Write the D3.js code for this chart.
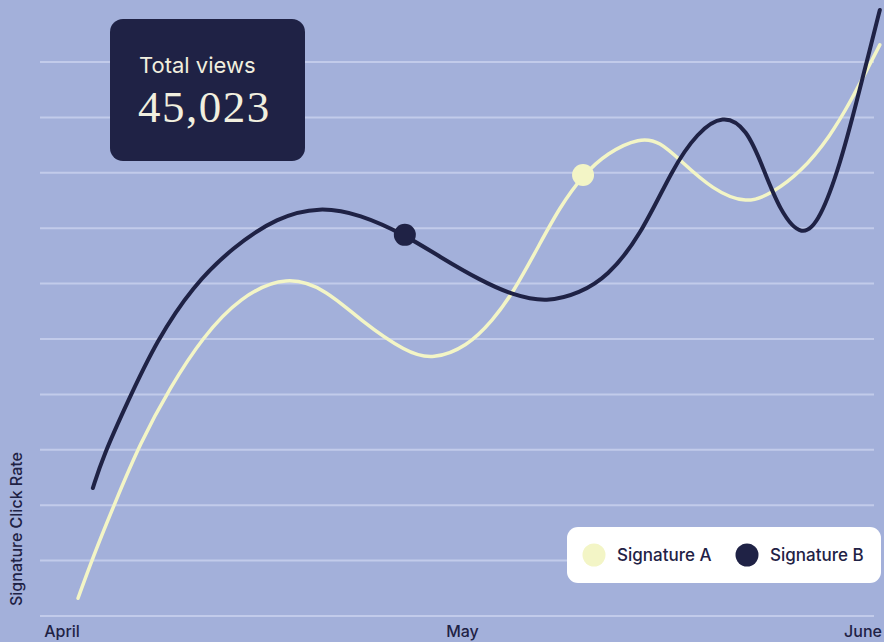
<!DOCTYPE html>
<meta charset="utf-8">
<style>
body { margin: 0; background: #a3b0da; }
svg { display: block; font-family: Inter, "Noto Sans", sans-serif; }
.grid line { stroke: #c2cbea; stroke-width: 2px; }
.month { font-size: 16px; font-weight: 500; fill: #1f2245; }
.ylabel { font-size: 16px; font-weight: 500; fill: #1f2245; }
.line { fill: none; stroke-linecap: round; }
</style>
<svg width="884" height="642"></svg>
<script src="https://d3js.org/d3.v7.min.js"></script>
<script>
// months since start of April
var months = ["April", "May", "June"];
var gridValues = [0, 10, 20, 30, 40, 50, 60, 70, 80, 90, 100];

var sigA = [
  [0.040, 3.2], [0.077, 10.6], [0.132, 20.4], [0.195, 31.2], [0.270, 41.3],
  [0.352, 50.4], [0.444, 57.6], [0.562, 61.6], [0.662, 58.8], [0.744, 53.4],
  [0.861, 47.5], [0.926, 46.3], [1.011, 48.6], [1.076, 53.4], [1.126, 58.3],
  [1.194, 67.3], [1.243, 73.8], [1.301, 79.6], [1.361, 83.6], [1.443, 86.4],
  [1.493, 85.6], [1.543, 82.3], [1.625, 76.9], [1.710, 74.3], [1.775, 76.4],
  [1.843, 80.0], [1.918, 86.5], [1.975, 93.7], [2.010, 98.6], [2.042, 103.1]
];
var sigB = [
  [0.077, 23.1], [0.102, 28.7], [0.162, 38.4], [0.237, 49.8], [0.327, 59.6],
  [0.427, 66.6], [0.537, 72.0], [0.644, 73.9], [0.744, 72.5], [0.856, 68.8],
  [0.944, 64.8], [1.044, 60.6], [1.126, 57.9], [1.211, 56.6], [1.293, 58.3],
  [1.361, 61.2], [1.443, 68.4], [1.526, 81.0], [1.586, 87.2], [1.650, 90.6],
  [1.710, 88.0], [1.750, 81.0], [1.793, 73.0], [1.848, 68.2], [1.893, 71.5],
  [1.943, 81.5], [1.985, 93.1], [2.017, 102.2], [2.042, 109.4]
];
var markerA = [1.301, 79.6];
var markerB = [0.856, 68.8];
var totalLabel = "Total views";
var totalValue = 45023;
var seriesNames = ["Signature A", "Signature B"];

var cream = "#f3f5c6", navy = "#1f2245";

var svg = d3.select("svg");
var x = d3.scaleLinear().domain([0, 2]).range([62, 863]);
var y = d3.scaleLinear().domain([0, 100]).range([616, 62]);

svg.append("g").attr("class", "grid")
  .selectAll("line").data(gridValues).enter().append("line")
  .attr("x1", 40).attr("x2", 874)
  .attr("y1", function(d) { return y(d); })
  .attr("y2", function(d) { return y(d); });

svg.selectAll(".month").data(months).enter().append("text")
  .attr("class", "month")
  .attr("x", function(d, i) { return x(i); })
  .attr("y", 637)
  .attr("text-anchor", "middle")
  .text(function(d) { return d; });

svg.append("text").attr("class", "ylabel")
  .attr("transform", "translate(22,606) rotate(-90)")
  .text("Signature Click Rate");

var line = d3.line()
  .x(function(d) { return x(d[0]); })
  .y(function(d) { return y(d[1]); })
  .curve(d3.curveBasis);

svg.append("path").attr("class", "line")
  .attr("d", line(sigA)).attr("stroke", cream).attr("stroke-width", 3.5);
svg.append("path").attr("class", "line")
  .attr("d", line(sigB)).attr("stroke", navy).attr("stroke-width", 4);

svg.append("circle").attr("cx", x(markerA[0])).attr("cy", y(markerA[1]))
  .attr("r", 11).attr("fill", cream);
svg.append("circle").attr("cx", x(markerB[0])).attr("cy", y(markerB[1]))
  .attr("r", 11).attr("fill", navy);

// total views card
var card = svg.append("g");
card.append("rect").attr("x", 110).attr("y", 19).attr("width", 195).attr("height", 142)
  .attr("rx", 13).attr("fill", navy);
card.append("text").attr("x", 139).attr("y", 73)
  .attr("fill", "#f1efdf").style("font-size", "22px")
  .text(totalLabel);
card.append("text").attr("x", 138).attr("y", 122)
  .attr("fill", "#f1efdf")
  .style("font-family", "'Liberation Serif', serif").style("font-size", "45px")
  .style("letter-spacing", "1.5px")
  .text(d3.format(",")(totalValue));

// legend
var legend = svg.append("g");
legend.append("rect").attr("x", 567).attr("y", 527).attr("width", 314).attr("height", 56)
  .attr("rx", 11).attr("fill", "#ffffff");
var items = legend.selectAll(".item").data(seriesNames).enter().append("g")
  .attr("transform", function(d, i) { return "translate(" + (i ? 747 : 594) + ",555)"; });
items.append("circle").attr("r", 11.5)
  .attr("fill", function(d, i) { return i ? navy : cream; });
items.append("text").attr("x", 23).attr("y", 6)
  .attr("fill", navy).style("font-size", "17px").style("font-weight", 500)
  .text(function(d) { return d; });
</script>
